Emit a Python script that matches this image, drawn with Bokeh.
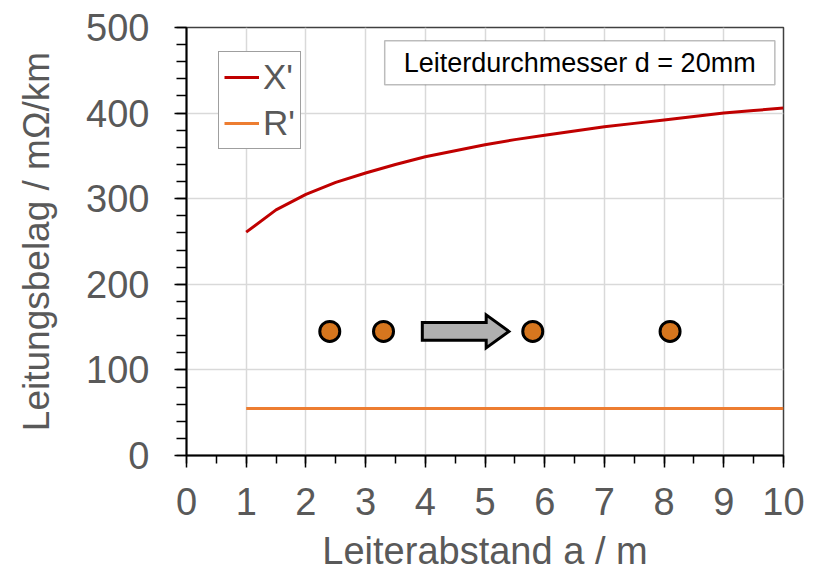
from bokeh.plotting import figure
from bokeh.models import Range1d, SingleIntervalTicker, Legend, LegendItem, Label, BoxAnnotation
from bokeh.embed import file_html
from bokeh.resources import INLINE

# ---- data ----
a_values = [1, 1.5, 2, 2.5, 3, 3.5, 4, 4.5, 5, 5.5, 6, 6.5, 7, 7.5, 8, 8.5, 9, 9.5, 10]
x_prime = [261, 287, 305, 319, 330, 340, 349, 356, 363, 369, 374, 379, 384, 388, 392, 396, 400, 403, 406]
r_a = [1, 10]
r_prime = [55, 55]

conductor_x = [2.4, 3.3, 5.8, 8.1]
conductor_y = [145, 145, 145, 145]
arrow_start = 3.95
arrow_end = 5.4
arrow_head_start = 5.02
arrow_y = 145

x_ticks = list(range(0, 11))
y_ticks = [0, 100, 200, 300, 400, 500]

FONT = "Liberation Sans"
GRAY = "#595959"

p = figure(frame_width=597, frame_height=428,
           min_border_left=186, min_border_right=38, min_border_top=27, min_border_bottom=120,
           x_range=Range1d(0, 10), y_range=Range1d(0, 500),
           output_backend="svg", toolbar_location=None)
p.background_fill_color = "white"
p.border_fill_color = "white"
p.outline_line_color = "#404040"
p.outline_line_width = 1.5

# grids
p.xgrid.ticker = SingleIntervalTicker(interval=1)
p.ygrid.ticker = SingleIntervalTicker(interval=100)
p.grid.grid_line_color = "#D9D9D9"
p.grid.grid_line_width = 1.5

# axes
p.xaxis.ticker = SingleIntervalTicker(interval=1, num_minor_ticks=2)
p.yaxis.ticker = SingleIntervalTicker(interval=100, num_minor_ticks=5)
for ax in (p.xaxis[0], p.yaxis[0]):
    ax.axis_line_color = "black"
    ax.axis_line_width = 2
    ax.major_tick_line_color = "black"
    ax.major_tick_line_width = 1.5
    ax.minor_tick_line_color = "black"
    ax.minor_tick_line_width = 1.5
    ax.major_tick_in = 0
    ax.minor_tick_in = 0
    ax.major_tick_out = 12
    ax.major_label_text_font = FONT
    ax.major_label_text_font_size = "38px"
    ax.major_label_text_color = GRAY
    ax.axis_label_text_font = FONT
    ax.axis_label_text_font_style = "normal"
    ax.axis_label_text_color = GRAY
p.xaxis.minor_tick_out = 8
p.yaxis.minor_tick_out = 10
p.xaxis.major_label_standoff = 20
p.yaxis.major_label_standoff = 25
p.xaxis.axis_label = "Leiterabstand a / m"
p.yaxis.axis_label = "Leitungsbelag / mΩ/km"
p.xaxis.axis_label_text_font_size = "38px"
p.yaxis.axis_label_text_font_size = "37px"
p.xaxis.axis_label_standoff = 12
p.yaxis.axis_label_standoff = 26

# lines
rx = p.line(a_values, x_prime, line_color="#C00000", line_width=3)
rr = p.line(r_a, r_prime, line_color="#ED7D31", line_width=3)

# arrow (decorative) built from start/end values
body_half = 10.5
head_half = 19.3
ax_pts = [arrow_start, arrow_head_start, arrow_head_start, arrow_end, arrow_head_start, arrow_head_start, arrow_start]
ay_pts = [arrow_y + body_half, arrow_y + body_half, arrow_y + head_half, arrow_y,
          arrow_y - head_half, arrow_y - body_half, arrow_y - body_half]
p.patch(ax_pts, ay_pts, fill_color="#B0B0B0", line_color="black", line_width=3, line_join="miter")

# conductors
p.scatter(conductor_x, conductor_y, size=20, fill_color="#D6761E", line_color="black", line_width=3)

# legend
legend = Legend(items=[LegendItem(label="X'", renderers=[rx]), LegendItem(label="R'", renderers=[rr])],
                location=(32, 306))
legend.label_text_font = FONT
legend.label_text_font_size = "35px"
legend.label_text_color = GRAY
legend.border_line_color = "#404040"
legend.border_line_width = 1
legend.background_fill_color = "white"
legend.background_fill_alpha = 1
legend.glyph_width = 35
legend.glyph_height = 30
legend.label_height = 30
legend.spacing = 6
legend.padding = 5
legend.margin = 0
legend.label_standoff = 4
p.add_layout(legend)

# text box
box = BoxAnnotation(left=3.32, right=9.855, top=484.4, bottom=433,
                    fill_color="white", fill_alpha=1, line_color="#202020", line_width=1.5)
p.add_layout(box)
lbl = Label(x=6.586, y=458.5, text="Leiterdurchmesser d = 20mm", text_align="center",
            text_baseline="middle", text_font=FONT, text_font_size="27px", text_color="black")
p.add_layout(lbl)

open("out.html", "w").write(file_html(p, INLINE))
